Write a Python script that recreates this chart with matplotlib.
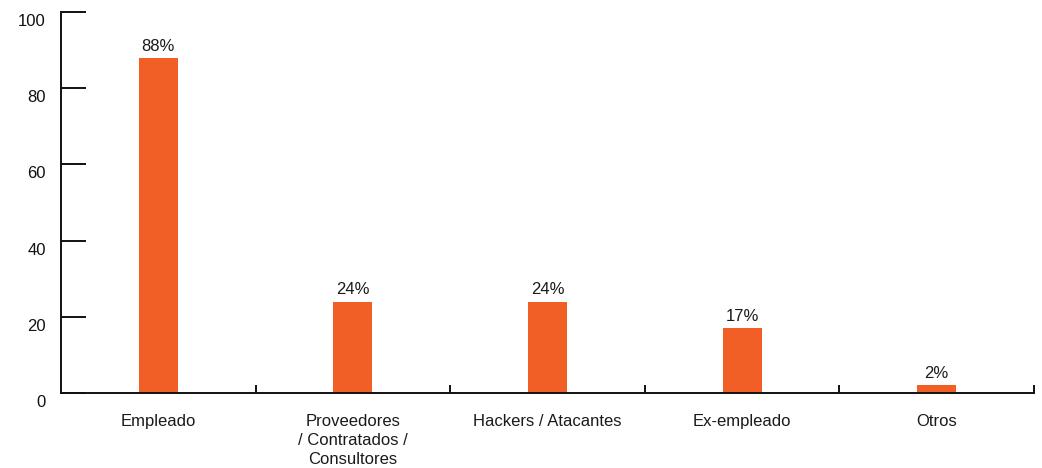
import matplotlib
matplotlib.use("Agg")
import matplotlib.pyplot as plt
from matplotlib.transforms import ScaledTranslation

categories = ["Empleado", "Proveedores\n/ Contratados /\nConsultores",
              "Hackers / Atacantes", "Ex-empleado", "Otros"]
values = [88, 24, 24, 17, 2]
y_ticks = [0, 20, 40, 60, 80, 100]

BAR_COLOR = "#F15F26"
plt.rcParams["font.family"] = ["Liberation Sans", "DejaVu Sans"]

fig = plt.figure(figsize=(10.42, 4.68), dpi=100)
ax = fig.add_axes([61 / 1042, 75 / 468, 973 / 1042, 381 / 468])

x = list(range(len(categories)))
bars = ax.bar(x, values, width=0.2, color=BAR_COLOR, zorder=2)
for rect, v in zip(bars, values):
    ax.annotate(f"{v}%", (rect.get_x() + rect.get_width() / 2, v),
                xytext=(0, 3), textcoords="offset points",
                ha="center", va="bottom", fontsize=12, color="#1a1a1a")

ax.set_xlim(-0.5, len(categories) - 0.5)
ax.set_ylim(0, 100)

for side in ("top", "right"):
    ax.spines[side].set_visible(False)
for side in ("left", "bottom"):
    ax.spines[side].set_linewidth(1.4)
    ax.spines[side].set_color("#111111")

# y axis: long inward ticks, labels nudged below each tick
ax.set_yticks(y_ticks)
ax.tick_params(axis="y", direction="in", length=18, width=1.4,
               pad=11, labelsize=12, colors="#111111")
shift = ScaledTranslation(0, -8 / 100, fig.dpi_scale_trans)
for lbl in ax.get_yticklabels():
    lbl.set_transform(lbl.get_transform() + shift)

# x axis: short ticks between categories, labels centred under bars
ax.set_xticks([i + 0.5 for i in x])
ax.set_xticklabels([])
ax.tick_params(axis="x", which="major", direction="in", length=6, width=1.4,
               colors="#111111")
ax.set_xticks(x, minor=True)
ax.set_xticklabels(categories, minor=True, fontsize=12, linespacing=1.32)
ax.tick_params(axis="x", which="minor", length=0, pad=15, colors="#1a1a1a")

fig.savefig("out.png", dpi=100)
